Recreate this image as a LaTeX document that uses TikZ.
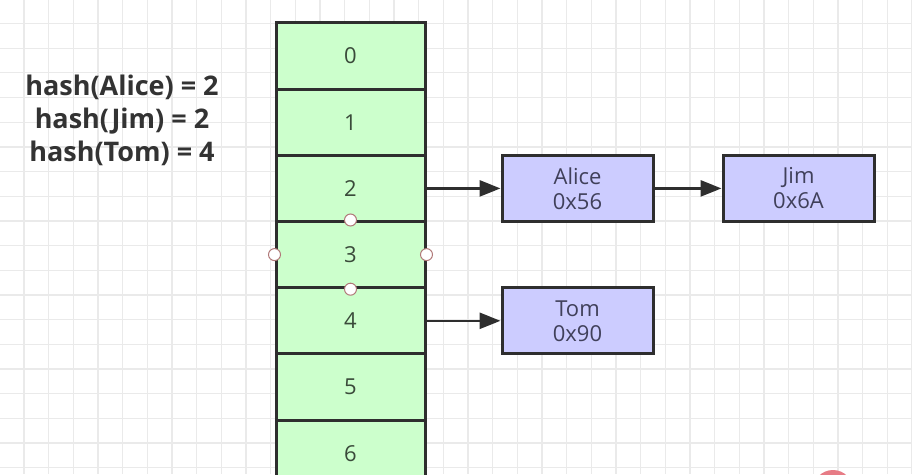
\documentclass[tikz,border=0pt]{standalone}
\usepackage{fontspec}
\setmainfont{Open Sans}
\usetikzlibrary{arrows.meta}
\definecolor{gridc}{HTML}{EAEAEA}
\definecolor{cellfill}{HTML}{CCFFCC}
\definecolor{boxfill}{HTML}{CCCCFF}
\definecolor{edge}{HTML}{2E2E2E}
\definecolor{celltext}{HTML}{3A4A3A}
\definecolor{boxtext}{HTML}{40405A}
\definecolor{handlec}{HTML}{B07878}
\definecolor{wmark}{HTML}{E77C86}
\tikzset{
  cell/.style={draw=edge, line width=3pt, fill=cellfill, minimum width=149pt, minimum height=66.2pt, inner sep=0pt, text=celltext, font=\fontsize{22}{26}\selectfont},
  entry/.style={draw=edge, line width=3pt, fill=boxfill, minimum width=151pt, minimum height=66pt, inner sep=0pt, text=boxtext, align=center, font=\fontsize{22}{25}\selectfont},
  arr/.style={draw=edge, line width=2.6pt, -{Triangle[length=21pt,width=16pt]}},
  handle/.style={circle, draw=handlec, line width=1pt, fill=white, minimum size=12pt, inner sep=0pt},
  hashtxt/.style={align=center, text=black!80, font=\fontsize{27}{33}\selectfont\bfseries}
}
\begin{document}
\begin{tikzpicture}[x=1pt,y=-1pt]
\useasboundingbox (0,0) rectangle (912,474);
\clip (0,0) rectangle (912,474);
\fill[white] (0,0) rectangle (912,474);
\foreach \i in {-1,...,37} \draw[gridc, line width=1.3pt] ({24+24.67*\i},0) -- ({24+24.67*\i},474);
\foreach \i in {-1,...,19} \draw[gridc, line width=1.3pt] (0,{23.5+24.67*\i}) -- (912,{23.5+24.67*\i});

\node[hashtxt] (hash) at (122,120.5) {hash(Alice)~=~2\\hash(Jim)~=~2\\hash(Tom)~=~4};

\node[cell] (c0) at (350.5,56) {0};
\node[cell] (c1) at (350.5,122.2) {1};
\node[cell] (c2) at (350.5,188.4) {2};
\node[cell] (c3) at (350.5,254.6) {3};
\node[cell] (c4) at (350.5,320.8) {4};
\node[cell] (c5) at (350.5,387) {5};
\node[cell] (c6) at (350.5,453.2) {6};

\node[entry] (alice) at (577.5,188.4) {Alice\\0x56};
\node[entry] (jim) at (798.5,188.4) {Jim\\0x6A};
\node[entry] (tom) at (577.5,320.8) {Tom\\0x90};

\draw[arr] (c2.east) -- (alice.west);
\draw[arr] (alice.east) -- (jim.west);
\draw[arr] (c4.east) -- (tom.west);

\node[handle] (h1) at (c3.north) {};
\node[handle] (h2) at (c3.south) {};
\node[handle] (h3) at (c3.west) {};
\node[handle] (h4) at (c3.east) {};

\fill[wmark] (833,490) circle (20);
\end{tikzpicture}
\end{document}
